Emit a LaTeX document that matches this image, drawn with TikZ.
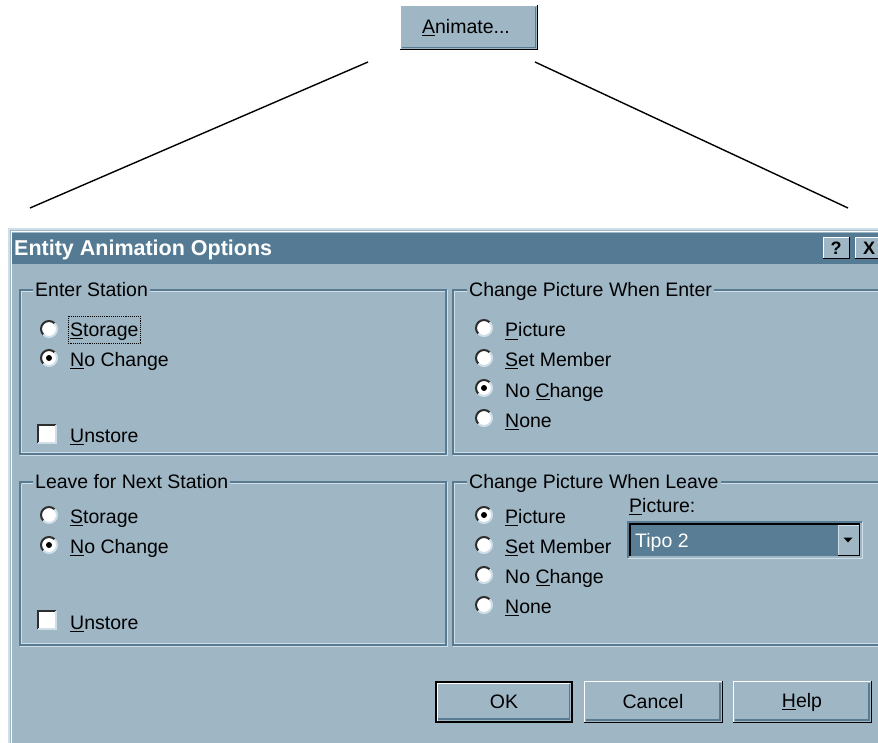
\documentclass[tikz,border=0pt]{standalone}
\usepackage{fontspec}
\setmainfont{Liberation Sans}
\newcommand\ulk[1]{\setbox0\hbox{#1}\rlap{\rule[-2.8pt]{\wd0}{1.1pt}}#1}
\definecolor{body}{HTML}{9FB6C5}
\definecolor{titlec}{HTML}{557B94}
\definecolor{dkline}{HTML}{587B91}
\definecolor{ltline}{HTML}{CFDEE7}
\definecolor{combo}{HTML}{587D95}
\definecolor{rimdark}{HTML}{2E2E2E}
\begin{document}
\begin{tikzpicture}[x=1pt,y=-1pt,
  txt/.style={anchor=base west, inner sep=0pt, font=\fontsize{19.5}{22}\selectfont},
  grplbl/.style={anchor=base west, inner xsep=2pt, inner ysep=1pt, fill=body, font=\fontsize{19.5}{22}\selectfont},
  btntxt/.style={inner sep=0pt, font=\fontsize{19.5}{22}\selectfont},
  radio/.pic={
    \fill[white] (0,0) circle[radius=8.5pt];
    \draw[rimdark, line width=2pt] (45:8pt) arc[start angle=45,end angle=225,radius=8pt];
    \draw[ltline, line width=2pt] (225:8pt) arc[start angle=225,end angle=405,radius=8pt];
  },
  radiosel/.pic={
    \fill[white] (0,0) circle[radius=8.5pt];
    \draw[rimdark, line width=2pt] (45:8pt) arc[start angle=45,end angle=225,radius=8pt];
    \draw[ltline, line width=2pt] (225:8pt) arc[start angle=225,end angle=405,radius=8pt];
    \fill[black] (0,0) circle[radius=3pt];
  },
  chk/.pic={
    \fill[white] (-9,-9) rectangle (9,9);
    \draw[rimdark, line width=1.6pt] (-9,9) -- (-9,-9) -- (9,-9);
    \draw[ltline, line width=1.4pt] (-9,9) -- (9,9) -- (9,-9);
  },
  etched/.style={dkline, line width=1.2pt},
  etchedlt/.style={ltline, line width=1.2pt}
]
\useasboundingbox (0,0) rectangle (878,743);
\clip (0,0) rectangle (878,743);

% ---- Animate button and connector lines ----
\fill[body] (400,5) rectangle (538,50);
\draw[white, line width=1.3pt] (400.5,50) -- (400.5,5.5) -- (538,5.5);
\draw[black, line width=1.5pt] (400,49.5) -- (537.5,49.5) -- (537.5,5);
\draw[dkline, line width=1.2pt] (402,47.5) -- (535.5,47.5) -- (535.5,7);
\node[btntxt] (animate) at (466,28) {\ulk{A}nimate...};

\coordinate (la) at (368,62);
\coordinate (lb) at (30,208);
\coordinate (ra) at (535,62);
\coordinate (rb) at (848,208);
\draw[line width=1.4pt] (la) -- (lb);
\draw[line width=1.4pt] (ra) -- (rb);

% ---- Dialog ----
\fill[body] (8,228) rectangle (890,750);
\draw[ltline, line width=1.5pt] (9,750) -- (9,229) -- (890,229);
\draw[white, line width=1pt] (11.5,750) -- (11.5,231.5) -- (890,231.5);
\fill[titlec] (12,233) rectangle (890,264);
\node[anchor=base west, inner sep=0pt, text=white, font=\fontsize{21.5}{24}\selectfont\bfseries] (title) at (14,256) {Entity Animation Options};

% title buttons
\fill[body] (823,237) rectangle (850,259);
\draw[white, line width=1pt] (823.5,259) -- (823.5,237.5) -- (850,237.5);
\draw[black, line width=1.4pt] (823,258.5) -- (849.5,258.5) -- (849.5,237);
\node[inner sep=0pt, font=\fontsize{18}{20}\selectfont\bfseries] (help) at (836,248) {?};
\fill[body] (855,237) rectangle (885,259);
\draw[white, line width=1pt] (855.5,259) -- (855.5,237.5) -- (885,237.5);
\draw[black, line width=1.4pt] (855,258.5) -- (885,258.5);
\node[inner sep=0pt, font=\fontsize{18}{20}\selectfont\bfseries] (close) at (869,248) {X};

% ---- Group boxes ----
% Enter Station
\draw[etched] (20,290) rectangle (446,454);
\draw[etchedlt] (21.5,291.5) -- (21.5,452.5) -- (445,452.5);
\draw[etchedlt] (21.5,291.5) -- (444.5,291.5);
\draw[etchedlt] (447.5,290) -- (447.5,455.5) -- (20,455.5);
\node[grplbl] (g1) at (33,297) {Enter Station};
% Change Picture When Enter
\draw[etched] (453,290) rectangle (900,454);
\draw[etchedlt] (454.5,452.5) -- (454.5,291.5) -- (900,291.5);
\draw[etchedlt] (454.5,452.5) -- (900,452.5);
\draw[etchedlt] (453,455.5) -- (900,455.5);
\node[grplbl] (g2) at (467,297) {Change Picture When Enter};
% Leave for Next Station
\draw[etched] (20,482) rectangle (446,645);
\draw[etchedlt] (21.5,483.5) -- (21.5,643.5) -- (445,643.5);
\draw[etchedlt] (21.5,483.5) -- (444.5,483.5);
\draw[etchedlt] (447.5,482) -- (447.5,646.5) -- (20,646.5);
\node[grplbl] (g3) at (33,488) {Leave for Next Station};
% Change Picture When Leave
\draw[etched] (453,482) rectangle (900,645);
\draw[etchedlt] (454.5,643.5) -- (454.5,483.5) -- (900,483.5);
\draw[etchedlt] (454.5,643.5) -- (900,643.5);
\draw[etchedlt] (453,646.5) -- (900,646.5);
\node[grplbl] (g4) at (467,488) {Change Picture When Leave};

% ---- Enter Station contents ----
\pic at (49,329) {radio};
\node[txt] (es1) at (70,336) {\ulk{S}torage};
\draw[black, densely dotted, line width=0.9pt] (68,316) rectangle (140,343);
\pic at (49,358) {radiosel};
\node[txt] (es2) at (70,366) {\ulk{N}o Change};
\pic at (47,434) {chk};
\node[txt] (es3) at (70,442) {\ulk{U}nstore};

% ---- Change Picture When Enter contents ----
\pic at (484,328) {radio};
\node[txt] (ce1) at (505,337) {\ulk{P}icture};
\pic at (484,358) {radio};
\node[txt] (ce2) at (505,366) {\ulk{S}et Member};
\pic at (484,388) {radiosel};
\node[txt] (ce3) at (505,397) {No \ulk{C}hange};
\pic at (484,418) {radio};
\node[txt] (ce4) at (505,427) {\ulk{N}one};

% ---- Leave for Next Station contents ----
\pic at (49,515) {radio};
\node[txt] (ls1) at (70,523) {\ulk{S}torage};
\pic at (49,545) {radiosel};
\node[txt] (ls2) at (70,553) {\ulk{N}o Change};
\pic at (47,620) {chk};
\node[txt] (ls3) at (70,629) {\ulk{U}nstore};

% ---- Change Picture When Leave contents ----
\pic at (484,515) {radiosel};
\node[txt] (cl1) at (505,523) {\ulk{P}icture};
\pic at (484,545) {radio};
\node[txt] (cl2) at (505,553) {\ulk{S}et Member};
\pic at (484,575) {radio};
\node[txt] (cl3) at (505,583) {No \ulk{C}hange};
\pic at (484,605) {radio};
\node[txt] (cl4) at (505,613) {\ulk{N}one};

\node[txt] (piclbl) at (629,512) {\ulk{P}icture:};
% combo box
\draw[dkline, line width=1.2pt] (628,558) -- (628,522) -- (862,522);
\draw[ltline, line width=1.2pt] (628,558.5) -- (862.5,558.5) -- (862.5,522);
\fill[combo] (630,524) rectangle (860,556);
\draw[black, line width=1.4pt] (630,556) -- (630,524) -- (860,524);
\node[txt, text=white] (combotxt) at (635,547) {Tipo 2};
\fill[body] (838,525) rectangle (859,555);
\draw[ltline, line width=1pt] (838.5,555) -- (838.5,525.5) -- (859,525.5);
\draw[black, line width=1.4pt] (838,555.5) -- (859.5,555.5) -- (859.5,525);
\fill[black] (843.5,537.5) -- (852.5,537.5) -- (848,542.5) -- cycle;

% ---- Bottom buttons ----
% OK (default)
\fill[body] (435,681) rectangle (573,723);
\draw[black, line width=1.6pt] (435.8,681.8) rectangle (572.2,722.2);
\draw[white, line width=1pt] (437.5,721) -- (437.5,683.5) -- (570,683.5);
\draw[dkline, line width=1.2pt] (438,719) -- (569.5,719) -- (569.5,684);
\node[btntxt] (ok) at (504,702) {OK};
% Cancel
\fill[body] (584,681) rectangle (723,723);
\draw[white, line width=1.2pt] (584.5,723) -- (584.5,681.5) -- (723,681.5);
\draw[black, line width=1.5pt] (584,722.3) -- (722.3,722.3) -- (722.3,681);
\draw[dkline, line width=1.2pt] (586,720) -- (720,720) -- (720,683);
\node[btntxt] (cancel) at (653,702) {Cancel};
% Help
\fill[body] (733,681) rectangle (872,723);
\draw[white, line width=1.2pt] (733.5,723) -- (733.5,681.5) -- (872,681.5);
\draw[black, line width=1.5pt] (733,722.3) -- (871.3,722.3) -- (871.3,681);
\draw[dkline, line width=1.2pt] (735,720) -- (869,720) -- (869,683);
\node[btntxt] (helpbtn) at (802,702) {\ulk{H}elp};
\end{tikzpicture}
\end{document}
